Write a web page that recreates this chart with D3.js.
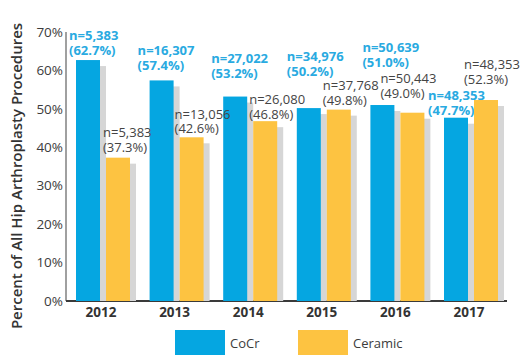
<!DOCTYPE html>
<html>
<head>
<meta charset="utf-8">
<script src="https://cdn.jsdelivr.net/npm/d3@7"></script>
<style>
  body { margin: 0; background: #fff; }
  svg { display: block; font-family: 'Open Sans', sans-serif; }
</style>
</head>
<body>
<div id="chart"></div>
<script>
var years = ['2012', '2013', '2014', '2015', '2016', '2017'];
var cocrPct = [62.7, 57.4, 53.2, 50.2, 51.0, 47.7];
var cocrN = ['5,383', '16,307', '27,022', '34,976', '50,639', '48,353'];
var ceramicPct = [37.3, 42.6, 46.8, 49.8, 49.0, 52.3];
var ceramicN = ['5,383', '13,056', '26,080', '37,768', '50,443', '48,353'];
var yTicks = [0, 10, 20, 30, 40, 50, 60, 70];

// hand placed label nudges [dx, lift above bar top] as in the original
var cocrNudge = [[-7, 10], [-12, 16], [-12, 24], [-10, 37], [-8, 43], [-16, 8]];
var ceramicNudge = [[-3, 11], [-5, 9], [-4, 7], [-4, 10], [-20, 20], [-10, 21]];

var width = 520, height = 363;
var plotLeft = 66, plotRight = 507, plotTop = 32, plotBottom = 301;
var barW = 24, shadow = 6, groupStep = 73.6;

var svg = d3.select('#chart').append('svg')
    .attr('width', width)
    .attr('height', height);

// band start = left edge of the CoCr bar in each group
var x = d3.scaleBand().domain(years).range([76, 76 + years.length * groupStep]);
var y = d3.scaleLinear().domain([0, 70]).range([plotBottom, plotTop]);

// y axis line
svg.append('line')
    .attr('x1', plotLeft).attr('x2', plotLeft)
    .attr('y1', y(70)).attr('y2', plotBottom)
    .attr('stroke', '#a0a0a0')
    .attr('stroke-width', 2);

// x axis line
svg.append('line')
    .attr('x1', plotLeft).attr('x2', plotRight)
    .attr('y1', plotBottom).attr('y2', plotBottom)
    .attr('stroke', '#3a3a3a')
    .attr('stroke-width', 2);

// tick labels
svg.selectAll('.ytick').data(yTicks).enter().append('text')
    .attr('x', plotLeft - 3)
    .attr('y', function(d){ return y(d); })
    .attr('dy', '0.35em')
    .attr('text-anchor', 'end')
    .attr('font-size', '13.5px')
    .attr('fill', '#3c3c3c')
    .text(function(d){ return d + '%'; });

svg.append('text')
    .attr('transform', 'translate(22,' + 176 + ') rotate(-90)')
    .attr('text-anchor', 'middle')
    .attr('font-size', '15px')
    .attr('font-weight', 600)
    .attr('fill', '#333')
    .text('Percent of All Hip Arthroplasty Procedures');

var series = [
    {name: 'CoCr', pct: cocrPct, n: cocrN, nudge: cocrNudge, color: '#05a6e1', text: '#29aae1', weight: 700, off: 0},
    {name: 'Ceramic', pct: ceramicPct, n: ceramicN, nudge: ceramicNudge, color: '#fdc341', text: '#444', weight: 400, off: barW + shadow}
];

series.forEach(function(s){
    var g = svg.append('g');
    // shadow first, then bar
    g.selectAll('.shadow').data(years).enter().append('rect')
        .attr('x', function(d){ return x(d) + s.off + shadow; })
        .attr('y', function(d, i){ return y(s.pct[i]) + shadow; })
        .attr('width', barW)
        .attr('height', function(d, i){ return plotBottom - y(s.pct[i]) - shadow; })
        .attr('fill', '#d6d6d6');
    g.selectAll('.bar').data(years).enter().append('rect')
        .attr('x', function(d){ return x(d) + s.off; })
        .attr('y', function(d, i){ return y(s.pct[i]); })
        .attr('width', barW)
        .attr('height', function(d, i){ return plotBottom - y(s.pct[i]); })
        .attr('fill', s.color);

    var lab = g.selectAll('.lab').data(years).enter().append('text')
        .attr('x', function(d, i){ return x(d) + s.off + s.nudge[i][0]; })
        .attr('y', function(d, i){ return y(s.pct[i]) - s.nudge[i][1]; })
        .attr('font-size', '13px')
        .attr('font-weight', s.weight)
        .attr('fill', s.text);
    lab.append('tspan')
        .attr('x', function(d, i){ return x(d) + s.off + s.nudge[i][0]; })
        .attr('dy', '-0.75em')
        .text(function(d, i){ return 'n=' + s.n[i]; });
    lab.append('tspan')
        .attr('x', function(d, i){ return x(d) + s.off + s.nudge[i][0]; })
        .attr('dy', '1.15em')
        .text(function(d, i){ return '(' + s.pct[i].toFixed(1) + '%)'; });
});

// year labels
svg.selectAll('.year').data(years).enter().append('text')
    .attr('x', function(d){ return x(d) + barW + shadow / 2 - 2; })
    .attr('y', plotBottom + 16)
    .attr('text-anchor', 'middle')
    .attr('font-size', '13.5px')
    .attr('font-weight', 700)
    .attr('fill', '#333')
    .text(function(d){ return d; });

// LEGEND
var legend = svg.selectAll('.legend').data(series).enter().append('g')
    .attr('transform', function(d, i){ return 'translate(' + (175 + i * 123) + ',330)'; });
legend.append('rect')
    .attr('width', 50).attr('height', 25)
    .attr('fill', function(d){ return d.color; });
legend.append('text')
    .attr('x', 55).attr('y', 13)
    .attr('dy', '0.35em')
    .attr('font-size', '13px')
    .attr('fill', '#3c3c3c')
    .text(function(d){ return d.name; });
</script>
</body>
</html>
